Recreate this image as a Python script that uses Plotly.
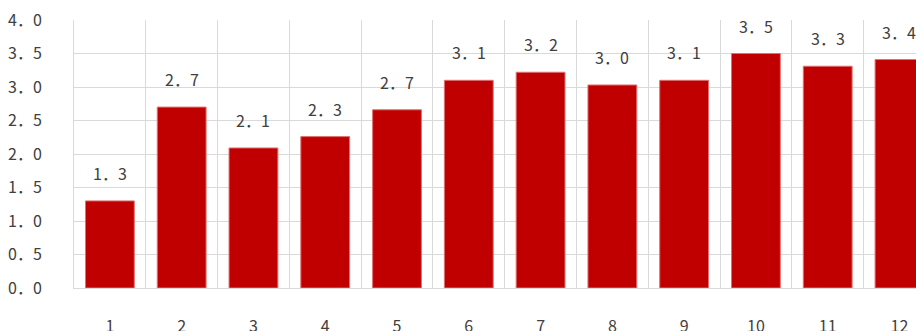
import plotly.graph_objects as go

categories = ["1", "2", "3", "4", "5", "6", "7", "8", "9", "10", "11", "12"]
values = [1.30, 2.70, 2.09, 2.26, 2.66, 3.10, 3.22, 3.03, 3.10, 3.50, 3.31, 3.41]
y_ticks = [0.0, 0.5, 1.0, 1.5, 2.0, 2.5, 3.0, 3.5, 4.0]

FONT = "Noto Sans CJK JP"
TXT = "#404040"
GRID = "#d9d9d9"

def jp(v):
    return f"{v:.1f}".replace(".", "．")

fig = go.Figure()
fig.add_trace(go.Bar(
    x=categories, y=values,
    marker=dict(color="#C00000", line=dict(color="#e07070", width=1)),
    width=0.68,
    hoverinfo="skip",
))

for i, v in enumerate(values):
    fig.add_annotation(x=i, y=v, text=jp(v), showarrow=False,
                       yanchor="bottom", yshift=14,
                       font=dict(family=FONT, size=16, color=TXT))

fig.update_layout(
    width=916, height=331,
    margin=dict(l=74, r=0, t=20, b=43, autoexpand=False),
    paper_bgcolor="white", plot_bgcolor="white",
    showlegend=False,
    font=dict(family=FONT, size=16, color=TXT),
    xaxis=dict(
        type="category", range=[-0.5, 11.23], automargin=False,
        showgrid=True, gridcolor=GRID, gridwidth=1,
        tickson="boundaries", ticks="", ticklen=0,
        ticklabelstandoff=24,
        showline=True, linecolor=GRID, linewidth=1,
        tickfont=dict(family=FONT, size=16, color=TXT),
    ),
    yaxis=dict(
        range=[0, 4], tickvals=y_ticks, ticktext=[jp(t) for t in y_ticks],
        automargin=False,
        showgrid=True, gridcolor=GRID, gridwidth=1,
        zeroline=False, ticks="",
        ticklabelstandoff=28,
        showline=True, linecolor=GRID, linewidth=1,
        tickfont=dict(family=FONT, size=16, color=TXT),
    ),
)

fig.write_html("out.html")
